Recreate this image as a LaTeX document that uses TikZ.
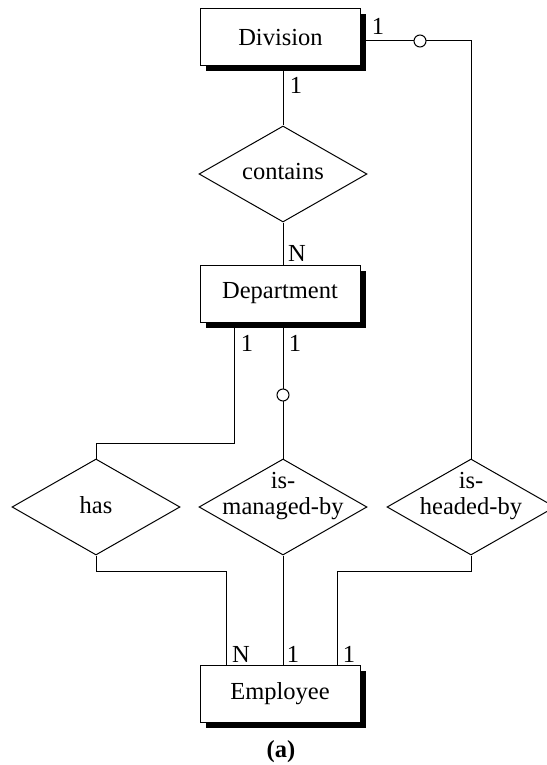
\documentclass[tikz,border=0pt]{standalone}
\usepackage{fontspec}
\setmainfont{Liberation Serif}
\usetikzlibrary{shapes.geometric,shadows,backgrounds}
\begin{document}
\begin{tikzpicture}[x=1pt,y=-1pt,
  every node/.style={font=\fontsize{24.5}{26}\selectfont},
  entity/.style={draw=black, line width=1pt, fill=white, minimum width=160pt, minimum height=57pt, inner sep=0pt,
    drop shadow={shadow xshift=5.5pt, shadow yshift=-5.5pt, fill=black, opacity=1}},
  rel/.style={draw=black, line width=1pt, fill=white, diamond, minimum width=168pt, minimum height=96pt, inner sep=0pt},
  rtext/.style={align=center, inner sep=0pt},
  card/.style={inner sep=0pt},
  opt/.style={draw=black, line width=1pt, fill=white, circle, minimum size=12pt, inner sep=0pt},
  conn/.style={draw=black, line width=1pt}]
\useasboundingbox (0,0) rectangle (546,765);

% entities
\node[entity] (div) at (280.5,37.5) {Division};
\node[entity] (dept) at (280,293.5) {Department};
\node[entity] (emp) at (280,694) {Employee};

% relationships
\node[rel] (con) at (283,174) {};
\node[rtext] (cont) at (283,172) {contains};
\node[rel] (has) at (96,507) {};
\node[rtext] (hast) at (96,505) {has};
\node[rel] (man) at (283,507) {};
\node[rtext] (mant) at (283,496) {is-\\managed-by};
\node[rel] (hed) at (471,507) {};
\node[rtext] (hedt) at (471,496) {is-\\headed-by};

% connector helper points
\coordinate (hx) at (234,443);
\coordinate (ex) at (226,571);
\coordinate (ey) at (337,571);

% connectors (behind the boxes)
\begin{pgfonlayer}{background}
\draw[conn] (div.south -| con.north) -- (con.north);
\draw[conn] (con.south) -- (dept.north -| con.south);
\draw[conn] ([yshift=-3.5pt]div.east) -| (hed.north);
\draw[conn] (dept.south -| hx) -- (hx) -| (has.north);
\draw[conn] (dept.south -| man.north) -- (man.north);
\draw[conn] (has.south) |- (ex) -- (emp.north -| ex);
\draw[conn] (man.south) -- (emp.north -| man.south);
\draw[conn] (hed.south) |- (ey) -- (emp.north -| ey);
\end{pgfonlayer}

% optional circles
\node[opt] (o1) at (420,41) {};
\node[opt] (o2) at (283,395) {};

% cardinalities
\node[card] (c1) at (296,85) {1};
\node[card] (c2) at (378,26) {1};
\node[card] (c3) at (297,253) {N};
\node[card] (c4) at (247,343) {1};
\node[card] (c5) at (295,343) {1};
\node[card] (c6) at (241,654) {N};
\node[card] (c7) at (293,654) {1};
\node[card] (c8) at (349,654) {1};

% caption
\node[inner sep=0pt, font=\fontsize{24.5}{26}\selectfont\bfseries] (cap) at (281,752) {(a)};
\end{tikzpicture}
\end{document}
